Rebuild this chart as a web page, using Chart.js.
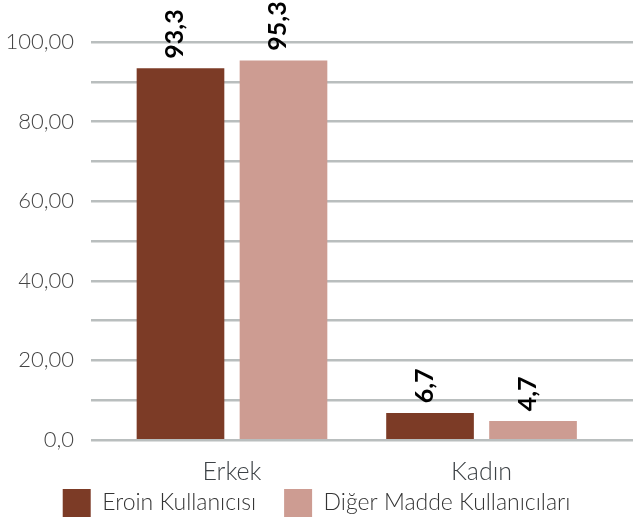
<!DOCTYPE html>
<html>
<head>
<meta charset="utf-8">
<script src="https://cdn.jsdelivr.net/npm/chart.js@4"></script>
<style>
html,body{margin:0;padding:0;background:#fff;}
canvas{display:block;}
</style>
</head>
<body>
<canvas id="c" width="633" height="524"></canvas>
<script>
const categories = ['Erkek', 'Kadın'];
const seriesNames = ['Eroin Kullanıcısı', 'Diğer Madde Kullanıcıları'];
const eroin = [93.3, 6.7];
const diger = [95.3, 4.7];
const yTicks = [0, 20, 40, 60, 80, 100];

const FONT = 'Lato, "Open Sans", sans-serif';
const fmt = v => v.toFixed(1).replace('.', ',');
const yFmt = v => v === 0 ? '0,0' : v.toFixed(2).replace('.', ',');

const labelPlugin = {
  id: 'vlabels',
  afterDatasetsDraw(chart) {
    const ctx = chart.ctx;
    chart.data.datasets.forEach((ds, di) => {
      const meta = chart.getDatasetMeta(di);
      meta.data.forEach((bar, i) => {
        const v = ds.data[i].y;
        ctx.save();
        ctx.translate(bar.x + 3, bar.y - 10);
        ctx.rotate(-Math.PI / 2);
        ctx.font = 'bold 25px ' + FONT;
        ctx.fillStyle = '#000';
        ctx.textAlign = 'left';
        ctx.textBaseline = 'alphabetic';
        ctx.fillText(fmt(v), 0, 0);
        ctx.restore();
      });
    });
  }
};

const legendShift = {
  id: 'legendShift',
  afterLayout(chart) {
    const lg = chart.legend;
    if (lg) { lg.top -= 28; lg.bottom = chart.height; }
  }
};

new Chart(document.getElementById('c'), {
  type: 'bar',
  data: {
    datasets: [
      { label: seriesNames[0], data: categories.map((c, i) => ({ x: i, y: eroin[i] })), backgroundColor: '#7c3b26' },
      { label: seriesNames[1], data: categories.map((c, i) => ({ x: i, y: diger[i] })), backgroundColor: '#cd9c92' }
    ]
  },
  options: {
    responsive: false,
    animation: false,
    devicePixelRatio: 1,
    barThickness: 103,
    maxBarThickness: 87,
    layout: { padding: { top: 42, left: 0, right: 0, bottom: 0 } },
    plugins: {
      tooltip: { enabled: false },
      legend: {
        position: 'bottom',
        maxHeight: 35,
        labels: {
          boxWidth: 28, boxHeight: 28, padding: 28,
          color: '#333',
          font: { family: FONT, size: 23, weight: 300 }
        }
      }
    },
    scales: {
      x: {
        type: 'linear',
        offset: false,
        min: -0.565, max: 1.607,
        grid: { display: false },
        border: { display: false },
        afterBuildTicks: s => { s.ticks = categories.map((c, i) => ({ value: i })); },
        afterFit: s => { s.height = 49; },
        ticks: {
          padding: 9,
          color: '#3d4246',
          font: { family: FONT, size: 25, weight: 300 },
          callback: v => categories[v]
        }
      },
      y: {
        min: 0, max: 100,
        afterFit: s => { s.width = 91; },
        grid: { color: '#b9bebe', lineWidth: 2.5, drawTicks: false },
        border: { display: false },
        ticks: {
          stepSize: 10,
          padding: 17,
          color: '#444',
          font: { family: FONT, size: 22, weight: 300 },
          callback: v => yTicks.includes(v) ? yFmt(v) : ''
        }
      }
    }
  },
  plugins: [labelPlugin, legendShift]
});
</script>
</body>
</html>
